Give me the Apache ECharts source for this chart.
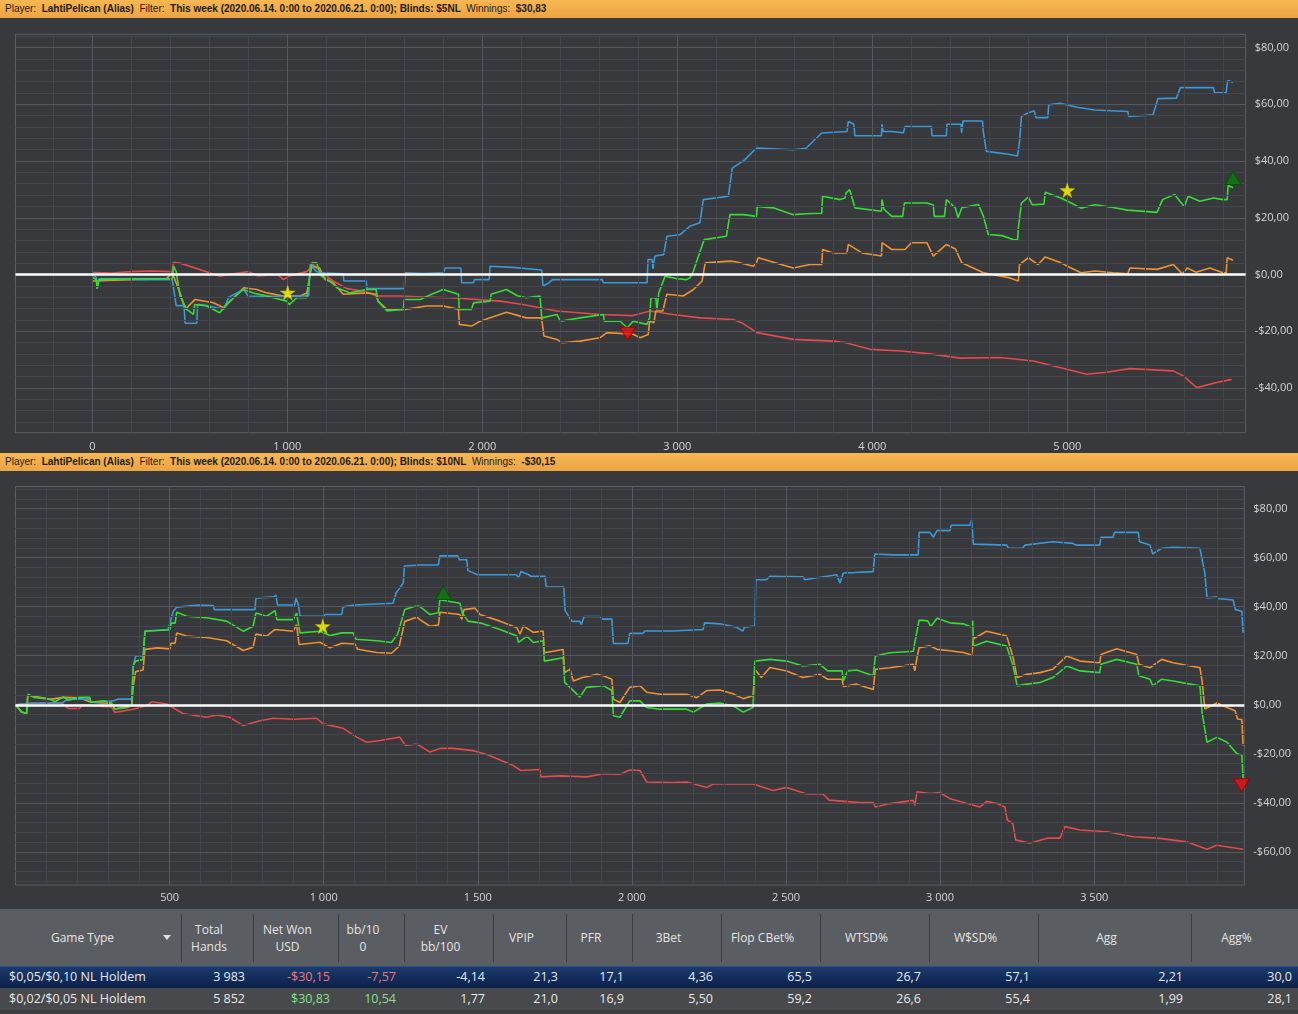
<!DOCTYPE html>
<html>
<head>
<meta charset="utf-8">
<script src="https://cdn.jsdelivr.net/npm/echarts@6/dist/echarts.min.js"></script>
<style>
  html,body{margin:0;padding:0;background:#37393c;width:1298px;height:1014px;overflow:hidden;font-family:"Open Sans","Noto Sans",sans-serif;}
  .hdr{position:absolute;left:0;width:1298px;height:18px;background:linear-gradient(#f7b752,#eca444);color:#1d1d1d;font:10px "Liberation Sans",Arial,sans-serif;line-height:18px;padding-left:5px;box-sizing:border-box;white-space:nowrap;z-index:2;}
  .hdr b{font-weight:bold;}
  .chart{position:absolute;left:0;width:1298px;z-index:1;}
  #tbl{position:absolute;left:0;top:909px;width:1298px;height:105px;background:#3c3f42;z-index:2;}
  .cell{position:absolute;box-sizing:border-box;white-space:nowrap;overflow:hidden;}
  .hcell{color:#e4e4e4;font-size:12px;text-align:center;display:flex;align-items:center;justify-content:center;line-height:17px;padding-right:16px;}
  .sep{position:absolute;top:5px;width:1px;height:48px;background:#3a3d40;}
  .rcell{font-size:12.5px;line-height:22px;color:#e8e8e8;text-align:right;padding-right:8px;}
</style>
</head>
<body>
<div class="hdr" id="h1" style="top:0"></div>
<div class="chart" id="c1" style="top:18px;height:435px"></div>
<div class="hdr" id="h2" style="top:453px"></div>
<div class="chart" id="c2" style="top:471px;height:438px"></div>
<div id="tbl"></div>
<script>
// ---------- header texts ----------
const header1 = ["Player:", "LahtiPelican (Alias)", "Filter:", "This week (2020.06.14. 0:00 to 2020.06.21. 0:00); Blinds: $5NL", "Winnings:", "$30,83"];
const header2 = ["Player:", "LahtiPelican (Alias)", "Filter:", "This week (2020.06.14. 0:00 to 2020.06.21. 0:00); Blinds: $10NL", "Winnings:", "-$30,15"];

// ---------- chart 1 ($5NL) data : [hands, $] ----------
const c1Blue = [[0,0],[20,-1],[25,-5],[35,-1.5],[120,-1.5],[250,-1.8],[410,-1.8],[430,-11],[470,-11],[476,-17.2],[536,-17.2],[540,-10.5],[590,-11],[620,-11.5],[674,-12.3],[700,-8],[776,-5.3],[800,-7.6],[990,-7.8],[1110,-7.5],[1117,3.5],[1150,1],[1180,0.6],[1287,0.2],[1290,-2.3],[1405,-2.3],[1408,-5],[1600,-5],[1604,0.6],[1700,0.3],[1800,0.6],[1810,2.3],[1890,2.3],[1894,-2.9],[1955,-2.9],[1960,-1.8],[2035,-1.8],[2040,2.9],[2155,2.5],[2160,1.8],[2305,1.6],[2311,-4.1],[2340,-3],[2360,-1.8],[2615,-1.8],[2621,-2.9],[2845,-2.9],[2850,5.3],[2870,5.3],[2875,2],[2885,6.5],[2930,7],[2947,13.5],[3013,14],[3064,17],[3116,18.2],[3133,26.4],[3262,27.6],[3282,37.5],[3347,40.5],[3406,44.6],[3594,44],[3660,44.5],[3741,49.9],[3870,50.4],[3877,54],[3905,53],[3911,48.9],[4047,48.9],[4050,53],[4055,50.4],[4100,50.4],[4160,50],[4168,52.2],[4303,52.2],[4306,48.9],[4380,48.9],[4383,53],[4455,53],[4458,50],[4465,54.1],[4565,54.1],[4570,50],[4585,43.4],[4690,42.5],[4745,41.8],[4755,46.9],[4765,55.7],[4792,56.8],[4830,57.7],[4840,55.3],[4900,55.3],[4905,59.8],[4963,60.4],[5050,59],[5142,58],[5310,57.5],[5315,55.7],[5440,56.3],[5465,62],[5560,62.2],[5580,65.9],[5750,65.9],[5755,64.1],[5815,64.1],[5822,68.4],[5850,67.8]];
const c1Green = [[0,-1],[20,-1.8],[25,-5],[35,-1.8],[200,-1.5],[410,-1.5],[417,2.9],[430,1],[450,-7.6],[484,-12.3],[519,-14.1],[525,-10.6],[587,-11.1],[653,-13.5],[705,-9.4],[774,-5.3],[826,-6.5],[895,-7.6],[997,-9.4],[1010,-10.6],[1049,-8.2],[1100,-8.2],[1120,2],[1126,4.1],[1150,4.1],[1175,-0.6],[1219,-2.3],[1254,-4.7],[1322,-6.5],[1408,-5.3],[1455,-5.3],[1465,-9.4],[1511,-12.9],[1595,-12.3],[1600,-8.8],[1682,-8.8],[1740,-7],[1800,-5.3],[1878,-7],[1882,-12.3],[1945,-12.3],[1955,-10],[2040,-9.4],[2045,-7],[2124,-5.3],[2180,-7.5],[2226,-8.2],[2296,-7.6],[2305,-15.3],[2383,-14.1],[2400,-16.5],[2501,-15.3],[2621,-14.1],[2625,-16.5],[2707,-16.5],[2743,-18.8],[2773,-16.5],[2844,-17.6],[2858,-15.3],[2865,-8.2],[2890,-8.2],[2895,-12.3],[2905,-6.5],[2937,-0.6],[3000,-1.5],[3049,-1.8],[3064,-1.2],[3083,1.2],[3097,4.1],[3138,12.3],[3252,13.5],[3270,21.1],[3339,21.1],[3406,20.5],[3410,24],[3492,23.5],[3594,21.1],[3680,21.5],[3741,21.6],[3745,27.6],[3834,26.4],[3860,27],[3865,28.7],[3884,29.9],[3911,23.5],[4047,22.3],[4050,26.4],[4060,23],[4100,20.5],[4156,20.5],[4165,25.2],[4280,25.2],[4313,24.5],[4318,20.5],[4370,20.5],[4380,26.4],[4426,23.5],[4440,20],[4459,23.5],[4544,24.7],[4570,20.5],[4595,14.1],[4665,13.7],[4723,12.3],[4745,12.2],[4750,17],[4765,25.2],[4800,27.3],[4820,24.6],[4880,24.8],[4887,29],[4967,27],[5020,25.2],[5070,23.4],[5142,24.6],[5234,23.6],[5310,22.7],[5315,22.5],[5460,21.9],[5489,26.4],[5550,28.2],[5600,24],[5620,27.6],[5680,25.8],[5750,27],[5798,26.4],[5820,26.4],[5825,31.4],[5850,30.6]];
const c1Orange = [[0,-2.3],[200,-1.8],[380,-1.5],[410,0.6],[420,0.6],[450,-6.5],[476,-12.3],[527,-8.8],[621,-10],[674,-11.7],[725,-8.2],[776,-4.7],[843,-5.3],[895,-6.5],[979,-7.6],[1065,-7.6],[1100,-6.5],[1120,1],[1126,2.9],[1165,2.3],[1194,-1.8],[1235,-2.9],[1287,-7],[1408,-6.5],[1455,-7],[1465,-9.4],[1511,-12.3],[1604,-12.3],[1714,-11.1],[1800,-11.1],[1878,-12.3],[1882,-17.6],[1945,-18.2],[1988,-16.5],[2124,-13.3],[2226,-15.3],[2304,-15.3],[2316,-21.7],[2383,-22.9],[2410,-24.1],[2501,-23.5],[2604,-22.3],[2640,-20.5],[2773,-21.1],[2810,-22.3],[2851,-21.2],[2858,-16.5],[2880,-17],[2890,-12.9],[2926,-12.9],[2946,-7],[3030,-7.6],[3083,-5.3],[3127,-2.3],[3143,4.1],[3270,4.7],[3300,4.5],[3390,2.9],[3406,4.1],[3415,5.9],[3594,2.3],[3680,3.5],[3741,3.5],[3745,8.8],[3800,7.6],[3870,7.6],[3877,10.6],[3947,7.6],[4047,6.5],[4050,11.2],[4100,8.8],[4168,8.8],[4200,11.2],[4280,11.2],[4313,6.5],[4330,7.5],[4380,10.6],[4426,9],[4459,4.1],[4570,0.6],[4706,-1.2],[4749,-2.3],[4755,3.5],[4800,5.9],[4850,3.5],[4887,6.2],[4967,4.1],[5020,2.3],[5070,0.6],[5142,1.2],[5234,0.6],[5310,0.2],[5321,2.3],[5460,1.8],[5544,3.5],[5590,0.2],[5597,-0.5],[5615,2.3],[5660,0.8],[5731,2.3],[5798,0.6],[5815,0.6],[5820,5.9],[5850,5]];
const c1Red = [[0,0.7],[100,0.5],[200,1],[300,1.2],[410,1],[415,4.3],[450,4],[655,-0.6],[700,0],[800,1],[850,-0.5],[950,0],[980,-1.8],[1010,-0.5],[1100,1],[1133,3.5],[1180,0.5],[1235,-2.3],[1305,-5],[1400,-6],[1460,-7.6],[1578,-7.6],[1700,-8],[1835,-8.2],[2091,-9.4],[2200,-10.5],[2383,-12.9],[2604,-14.1],[2773,-14.5],[2860,-12.9],[2978,-14.1],[3117,-15.3],[3286,-15.9],[3330,-17],[3408,-20.5],[3594,-22.9],[3799,-23.5],[3860,-24],[3988,-26.4],[4150,-27],[4296,-28],[4450,-29.5],[4655,-29.3],[4826,-30.5],[4998,-33.4],[5100,-35.2],[5200,-34.5],[5321,-33.2],[5544,-34],[5600,-36],[5664,-39.9],[5766,-38.1],[5843,-37]];
const c1Stars = [[1002,-6.4],[5000,29.7]];
const c1Peak = [[5850,34]];
const c1Low = [[2746,-20.9]];

// ---------- chart 2 ($10NL) data : [hands, $] ----------
const c2Blue = [[0,0],[40,0.5],[150,0.7],[171,2.3],[241,2.3],[245,1],[318,1.6],[334,2.3],[377,2.3],[382,15.8],[390,19.9],[414,19.9],[420,30.1],[495,30.6],[512,38.1],[523,39.8],[594,40.7],[642,40.5],[645,38.8],[777,38.8],[780,43.5],[837,44],[845,44.7],[850,40.7],[906,40.7],[910,43.5],[918,40.7],[923,36.1],[998,36.1],[1005,36.8],[1059,36.8],[1062,39.9],[1101,40.7],[1225,41.4],[1235,45.6],[1258,49.6],[1262,56.6],[1312,57],[1372,57],[1377,60.7],[1435,60.7],[1440,59.1],[1464,59.1],[1468,54.7],[1500,53],[1626,53],[1632,51.7],[1640,54.3],[1665,53],[1672,52.4],[1718,52.4],[1722,48],[1779,48],[1783,38.5],[1805,34],[1831,34],[1836,32.7],[1845,36],[1896,36],[1905,34.9],[1935,34.9],[1940,25],[1987,25],[1993,29.1],[2036,29.1],[2042,30.1],[2133,30.1],[2231,30.7],[2236,33.4],[2285,33],[2340,31.6],[2360,30],[2365,31.6],[2399,32.1],[2402,51],[2437,51],[2447,52.4],[2555,52.2],[2560,51],[2665,53],[2675,49.6],[2686,53.7],[2723,53.9],[2783,54.3],[2788,61.5],[2847,61.1],[2929,61.1],[2932,70.3],[2967,70.3],[2978,68.3],[2990,71],[3032,71],[3036,73.2],[3097,73.2],[3102,75.5],[3108,65.5],[3216,65.1],[3222,63.8],[3268,63.8],[3275,65.1],[3366,66.5],[3431,65.8],[3440,65.1],[3518,65.1],[3522,68.3],[3561,68.3],[3566,70.3],[3643,70.3],[3647,66.5],[3681,65.1],[3690,61.5],[3719,63.8],[3756,64.2],[3843,63.8],[3859,53.7],[3866,43.5],[3898,44],[3905,43.2],[3951,42.7],[3958,38.8],[3979,38.1],[3983,29.3]];
const c2Green = [[0,0],[20,-3],[36,-3.7],[40,4.3],[60,3],[112,2.3],[128,1.2],[155,3.2],[171,1.8],[209,3],[241,3],[245,1],[285,1.6],[312,0.7],[322,-1.7],[360,-1.2],[377,-0.4],[382,15.8],[390,17.8],[414,18.5],[420,30],[501,30.6],[505,33.3],[518,33.3],[523,37.7],[556,36.1],[620,35.5],[685,34.1],[739,30],[771,32],[780,37.4],[815,36.1],[842,38.4],[848,34.7],[901,34.7],[912,37.4],[923,29.3],[988,30],[1020,28.2],[1059,29.3],[1095,29.3],[1105,26.7],[1172,26.1],[1220,25.4],[1240,28.8],[1263,38.8],[1302,40.4],[1312,40.1],[1345,36.8],[1372,37.5],[1377,42.8],[1442,41.4],[1450,37.4],[1468,34.1],[1507,33.4],[1572,30.7],[1627,28],[1632,25.4],[1660,28],[1680,25.4],[1712,26.1],[1716,17.8],[1777,19.2],[1782,9.1],[1799,7.1],[1831,3.1],[1852,7.1],[1907,7.8],[1935,5.8],[1940,-4.5],[1961,-5.1],[1993,1.6],[2026,1.6],[2048,-1.1],[2091,-1.8],[2178,-1.8],[2199,-3],[2243,0.3],[2285,0.7],[2328,-0.4],[2361,-3],[2393,-1.1],[2399,17.8],[2448,18.5],[2502,17.8],[2555,15.8],[2610,16.5],[2635,13.8],[2682,13.8],[2686,9.7],[2700,13.8],[2729,14.2],[2783,11.8],[2790,19.9],[2837,21.2],[2913,21.8],[2918,25.3],[2932,34.5],[2960,34.2],[2970,31.9],[2990,35.3],[3032,33.4],[3075,33],[3103,31.6],[3106,34.3],[3108,23.9],[3151,25.9],[3216,23.9],[3237,15.8],[3250,7.7],[3281,8.4],[3324,9.1],[3366,11.1],[3411,15.8],[3454,13.8],[3518,13.1],[3522,16.5],[3573,18.5],[3638,16.5],[3645,11.8],[3681,10.4],[3690,7.7],[3719,10.4],[3756,9.7],[3843,7.7],[3850,-3.1],[3866,-15.3],[3898,-13.3],[3931,-15.3],[3963,-20],[3979,-20.5],[3983,-30.1]];
const c2Orange = [[0,0],[20,-3],[36,-3.5],[40,4],[112,2.2],[155,3],[209,2.8],[245,1],[312,0.5],[322,-1.7],[377,-0.4],[382,7.7],[390,13.5],[414,14.2],[420,22.6],[460,23.2],[501,22.8],[505,25.1],[518,25.1],[523,29.3],[556,28],[620,27.4],[685,26.1],[739,22.1],[771,23.5],[780,28.8],[815,28],[842,30.7],[901,30],[912,32.7],[920,24.6],[988,25.5],[1020,23.2],[1059,25.1],[1101,24.8],[1110,22.6],[1172,21.3],[1220,21],[1245,23.9],[1263,34],[1302,35.7],[1312,34.7],[1345,32],[1372,32.5],[1377,37.7],[1442,36.8],[1448,34.8],[1455,38.8],[1491,39.4],[1507,36.8],[1572,34.1],[1627,31.4],[1637,28.8],[1648,32.2],[1680,29.5],[1712,30.1],[1716,21.2],[1777,22.5],[1782,13.1],[1799,14.5],[1810,9.7],[1840,11.1],[1886,12.4],[1907,11.8],[1935,10.4],[1940,2.3],[1961,0.9],[1993,7.1],[2026,7.8],[2048,5.1],[2091,4.3],[2178,4.3],[2210,2.9],[2243,5.8],[2285,6],[2328,4.5],[2361,2.5],[2393,3.7],[2399,14.5],[2420,11.1],[2448,15.2],[2502,13.8],[2555,11.1],[2610,12.4],[2635,10.4],[2682,10.4],[2686,7.5],[2700,7.7],[2729,8.4],[2783,6.2],[2790,14.5],[2837,15.1],[2913,16.5],[2918,13.8],[2925,19.2],[2932,23.3],[2967,24],[2990,22.6],[3032,22],[3075,21.3],[3103,20.3],[3108,26.9],[3151,30],[3216,28],[3237,19.2],[3250,11.1],[3281,12.4],[3324,13.1],[3366,14.5],[3411,19.9],[3454,17.8],[3518,17.1],[3522,20.5],[3573,22.8],[3638,20.5],[3645,16.5],[3681,15.1],[3719,18.5],[3756,17.1],[3843,15.1],[3850,9.7],[3859,-1.7],[3898,0.7],[3931,-1.1],[3957,-2.4],[3965,-5.8],[3979,-6],[3983,-16.6]];
const c2Red = [[0,0],[50,0.7],[150,0.7],[171,-1.5],[209,-1.5],[215,0],[312,-1],[322,-3.1],[382,-1.8],[425,-0.4],[442,1.2],[491,0.3],[545,-3.7],[620,-5.1],[653,-4.2],[695,-5.1],[739,-8.5],[793,-6.5],[837,-5.5],[901,-5.9],[977,-5.5],[998,-7.8],[1063,-9.6],[1107,-13.2],[1140,-15.3],[1183,-14.6],[1247,-13.2],[1265,-16.6],[1302,-16],[1345,-19.3],[1377,-17.8],[1420,-17.8],[1485,-18.7],[1529,-20.3],[1614,-24.7],[1640,-26.8],[1701,-26.4],[1705,-29.4],[1766,-29],[1854,-29.4],[1907,-28.1],[1961,-28.3],[1993,-26.6],[2026,-26.8],[2048,-31.5],[2133,-31.7],[2178,-31.5],[2243,-33.7],[2265,-32.3],[2328,-32.3],[2393,-32.3],[2458,-35],[2502,-33.7],[2567,-36.4],[2620,-36.4],[2640,-38.9],[2740,-39.9],[2783,-39.9],[2790,-41.7],[2837,-40.3],[2913,-39],[2918,-41],[2925,-35.5],[2967,-36.2],[2999,-35.8],[3032,-38.3],[3088,-40.3],[3129,-41.7],[3151,-39.4],[3184,-40.3],[3210,-41.7],[3218,-47],[3236,-48.4],[3245,-55.1],[3292,-56.5],[3347,-54.4],[3389,-54.4],[3405,-49.7],[3454,-51.1],[3541,-51.8],[3627,-53.8],[3713,-54.5],[3800,-55.9],[3866,-58.9],[3898,-57.3],[3983,-58.9]];
const c2Stars = [[997,32]];
const c2Peak = [[1388,45.6]];
const c2Low = [[3978,-32.8]];

// ---------- axes (tick labels) ----------
const c1XMajor = [0,1000,2000,3000,4000,5000];
const c1YMajor = [-40,-20,0,20,40,60,80];
const c2XMajor = [500,1000,1500,2000,2500,3000,3500];
const c2YMajor = [-60,-40,-20,0,20,40,60,80];

// ---------- table ----------
const colEdges = [0,181,253,338,404,493,566,632,721,820,929,1038,1191,1298];
const colHeads = ["Game Type","Total<br>Hands","Net Won<br>USD","bb/10<br>0","EV<br>bb/100","VPIP","PFR","3Bet","Flop CBet%","WTSD%","W$SD%","Agg","Agg%"];
const row1 = ["$0,05/$0,10 NL Holdem","3 983","-$30,15","-7,57","-4,14","21,3","17,1","4,36","65,5","26,7","57,1","2,21","30,0"];
const row2 = ["$0,02/$0,05 NL Holdem","5 852","$30,83","10,54","1,77","21,0","16,9","5,50","59,2","26,6","55,4","1,99","28,1"];

// ---------- style ----------
const COL = {blue:'#3c98d6', green:'#36dc36', orange:'#ee9132', red:'#e24a4c'};
const MINOR = '#43464a', MAJOR = '#55585c', BORDER = '#5c5f63', LABEL = '#d4d4d4';
const STAR = 'path://M50,0 L61,35 L98,35 L68,57 L79,91 L50,70 L21,91 L32,57 L2,35 L39,35 Z';

function hdrHtml(h){
  return h[0]+'&nbsp; <b>'+h[1]+'</b>&nbsp; '+h[2]+'&nbsp; <b>'+h[3]+'</b>&nbsp; '+h[4]+'&nbsp; <b>'+h[5]+'</b>';
}
document.getElementById('h1').innerHTML = hdrHtml(header1);
document.getElementById('h2').innerHTML = hdrHtml(header2);

function range(a,b,s){const r=[];for(let v=a;v<=b+1e-9;v+=s)r.push(Math.round(v*100)/100);return r;}
function fmtHands(v){ if(v<1000) return String(v); return Math.floor(v/1000)+' '+String(v%1000).padStart(3,'0'); }
function fmtMoney(v){ return (v<0?'-':'')+'$'+Math.abs(v).toFixed(2).replace('.',','); }

function build(el, cfg){
  const chart = echarts.init(document.getElementById(el), null, {renderer:'canvas'});
  const xMinor = range(cfg.xTickStart, cfg.xTickEnd, cfg.xMinorStep).filter(v=>!cfg.xMajor.includes(v));
  const yMinor = range(cfg.yTickStart, cfg.yTickEnd, 4).filter(v=>!cfg.yMajor.includes(v));
  const grid = [];
  xMinor.forEach(v=>grid.push({xAxis:v, lineStyle:{color:MINOR,width:1,type:'solid'}}));
  yMinor.forEach(v=>grid.push({yAxis:v, lineStyle:{color:MINOR,width:1,type:'solid'}}));
  cfg.xMajor.forEach(v=>grid.push({xAxis:v, lineStyle:{color:MAJOR,width:1,type:'solid'}}));
  cfg.yMajor.forEach(v=>grid.push({yAxis:v, lineStyle:{color:MAJOR,width:1,type:'solid'}}));
  grid.push({yAxis:0, lineStyle:{color:'#ffffff',width:2.5,type:'solid'}});
  const allX = xMinor.concat(cfg.xMajor).sort((a,b)=>a-b);
  const allY = yMinor.concat(cfg.yMajor).sort((a,b)=>a-b);
  const line = (name,data,color)=>({name,type:'line',data,showSymbol:false,symbol:'none',z:3,
      lineStyle:{color,width:1.6},itemStyle:{color},animation:false,silent:true});
  const opt = {
    animation:false,
    backgroundColor:'transparent',
    grid:{left:cfg.grid.left, right:cfg.grid.right, top:cfg.grid.top, bottom:cfg.grid.bottom, containLabel:false, outerBoundsMode:'none', show:true, borderColor:BORDER, borderWidth:1, backgroundColor:'transparent'},
    xAxis:{type:'value', min:cfg.xMin, max:cfg.xMax, splitLine:{show:false}, axisLine:{show:false},
      axisTick:{show:true, customValues:allX, length:4, lineStyle:{color:MINOR}},
      axisLabel:{customValues:cfg.xMajor, formatter:fmtHands, color:LABEL, fontSize:11, margin:cfg.xLabelMargin, fontFamily:'Open Sans'}},
    yAxis:{type:'value', position:'right', min:cfg.yMin, max:cfg.yMax, splitLine:{show:false}, axisLine:{show:false},
      axisTick:{show:true, customValues:allY, length:4, lineStyle:{color:MINOR}},
      axisLabel:{customValues:cfg.yMajor, formatter:fmtMoney, color:LABEL, fontSize:11, margin:9, fontFamily:'Open Sans'}},
    series:[
      {type:'line', data:[], z:1, silent:true, markLine:{silent:true, symbol:['none','none'], label:{show:false}, animation:false, data:grid}},
      line('red',cfg.red,COL.red),
      line('orange',cfg.orange,COL.orange),
      line('blue',cfg.blue,COL.blue),
      line('green',cfg.green,COL.green),
      {type:'scatter', data:cfg.stars, symbol:STAR, symbolSize:15, z:5, itemStyle:{color:'#ffff00', borderColor:'#c9b200', borderWidth:0.5}, silent:true},
      {type:'scatter', data:cfg.peak, symbol:'triangle', symbolSize:[16,13], z:5, itemStyle:{color:'#0b7d0b', borderColor:'#064d06', borderWidth:1}, silent:true},
      {type:'scatter', data:cfg.low, symbol:'triangle', symbolRotate:180, symbolSize:[16,13], z:5, itemStyle:{color:'#ee1111', borderColor:'#990000', borderWidth:1}, silent:true}
    ]
  };
  chart.setOption(opt);
}

// chart 1 container 18..453 (435 tall): plot frame 34.3..432.7
build('c1', {
  grid:{left:15.5, right:52.3, top:16.3, bottom:20.3},
  xMin:-394, xMax:5915, yMin:-55.8, yMax:84.7,
  xTickStart:-200, xTickEnd:5800, xMinorStep:200, xMajor:c1XMajor,
  yTickStart:-52, yTickEnd:84, yMajor:c1YMajor, xLabelMargin:9,
  blue:c1Blue, green:c1Green, orange:c1Orange, red:c1Red,
  stars:c1Stars, peak:c1Peak, low:c1Low
});
// chart 2 container 471..909 (438 tall): plot frame 486.5..885
build('c2', {
  grid:{left:15.5, right:53.7, top:15.5, bottom:24},
  xMin:0, xMax:3987, yMin:-73.5, yMax:89,
  xTickStart:100, xTickEnd:3900, xMinorStep:100, xMajor:c2XMajor,
  yTickStart:-72, yTickEnd:88, yMajor:c2YMajor, xLabelMargin:7,
  blue:c2Blue, green:c2Green, orange:c2Orange, red:c2Red,
  stars:c2Stars, peak:c2Peak, low:c2Low
});

// ---------- table build ----------
(function(){
  const t = document.getElementById('tbl');
  let html = '<div style="position:absolute;left:0;top:0;width:1298px;height:57px;background:#5a5d61"></div>';
  html += '<div style="position:absolute;left:0;top:57px;width:1298px;height:22px;background:linear-gradient(#1b3b6e,#0b2049);border-top:1px solid #2c4f86;box-sizing:border-box"></div>';
  html += '<div style="position:absolute;left:0;top:79px;width:1298px;height:22px;background:#47494d"></div>';
  for(let i=0;i<colHeads.length;i++){
    const l=colEdges[i], w=colEdges[i+1]-colEdges[i];
    html += '<div class="cell hcell" style="left:'+l+'px;top:0;width:'+w+'px;height:57px">'+colHeads[i]+'</div>';
    if(i>0) html += '<div class="sep" style="left:'+l+'px"></div>';
  }
  html += '<div style="position:absolute;left:163px;top:26px;width:0;height:0;border-left:4px solid transparent;border-right:4px solid transparent;border-top:5px solid #e0e0e0"></div>';
  [[row1,57],[row2,79]].forEach(([r,top])=>{
    for(let i=0;i<r.length;i++){
      const l=colEdges[i], w=colEdges[i+1]-colEdges[i];
      let color='#e8e8e8';
      if(i===2||i===3){ color = r[i].startsWith('-') ? '#f07676' : '#86e086'; }
      const align = i===0 ? 'text-align:left;padding-left:9px;' : '';
      const pr = i===colHeads.length-1 ? 'padding-right:6px;' : '';
      html += '<div class="cell rcell" style="left:'+l+'px;top:'+top+'px;width:'+w+'px;height:22px;color:'+color+';'+align+pr+'">'+r[i]+'</div>';
    }
  });
  t.innerHTML = html;
})();
</script>
</body>
</html>
